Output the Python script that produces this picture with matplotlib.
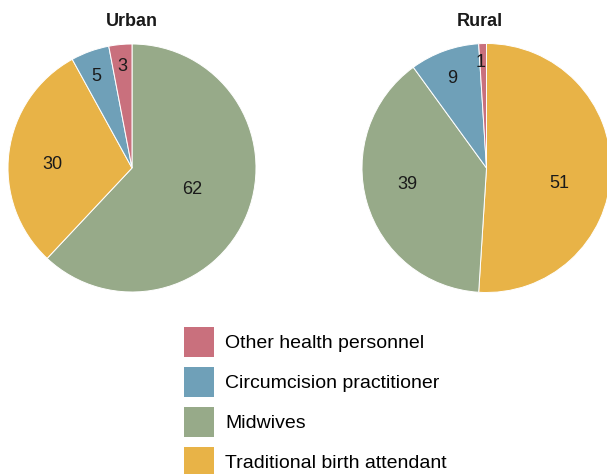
import matplotlib
matplotlib.use("Agg")
import matplotlib.pyplot as plt
import matplotlib.patches as mpatches
import numpy as np

plt.rcParams['font.family'] = ['Liberation Sans', 'DejaVu Sans']

categories = ["Other health personnel", "Circumcision practitioner", "Midwives", "Traditional birth attendant"]
colors = ["#C9707D", "#6FA0B8", "#97AA89", "#E8B347"]
urban_values = [3, 5, 62, 30]
rural_values = [1, 9, 39, 51]
titles = ["Urban", "Rural"]

W, H = 607, 474
fig = plt.figure(figsize=(W / 100, H / 100), dpi=100)

def px_axes(cx, cy, r):
    return fig.add_axes([(cx - r) / W, 1 - (cy + r) / H, 2 * r / W, 2 * r / H])

# label placement (angle in degrees, radius fraction) per category index
urban_lab = {0: (95.6, 0.82), 1: (111.6, 0.79), 2: (-19.8, 0.52), 3: (177.8, 0.64)}
rural_lab = {0: (93.0, 0.845), 1: (111.0, 0.77), 2: (192.1, 0.65), 3: (-11.6, 0.60)}

pie_specs = [
    (urban_values, 132, 168, 124, 132, urban_lab),
    (rural_values, 486.5, 168, 124.5, 480, rural_lab),
]

for (vals, cx, cy, r, tx, lab), title in zip(pie_specs, titles):
    ax = px_axes(cx, cy, r)
    order = sorted(range(len(vals)), key=lambda i: -vals[i])
    v = [vals[i] for i in order]
    c = [colors[i] for i in order]
    ax.pie(v, colors=c, startangle=90, counterclock=False, radius=1,
           wedgeprops=dict(edgecolor='white', linewidth=0.7))
    for i in order:
        ang, rr = lab[i]
        a = np.deg2rad(ang)
        ax.text(rr * np.cos(a), rr * np.sin(a), str(vals[i]), ha='center', va='center',
                fontsize=13, color='#1a1a1a')
    ax.set_xlim(-1, 1)
    ax.set_ylim(-1, 1)
    ax.set_aspect('equal')
    ax.axis('off')
    fig.text(tx / W, 1 - 21 / H, title, ha='center', va='center', fontsize=13,
             fontweight='bold', color='#1a1a1a')

handles = [mpatches.Patch(facecolor=col, edgecolor='none') for col in colors]
fs = 14
box_pt = 30 * 72 / 100
hh = (box_pt / fs - 0.245) / 0.65
fig.legend(handles, categories, loc='upper left', bbox_to_anchor=(184 / W, 1 - 327 / H),
           frameon=False, fontsize=fs, borderpad=0, borderaxespad=0,
           handlelength=box_pt / fs, handleheight=hh, labelspacing=(10 * 72 / 100) / fs,
           handletextpad=(11 * 72 / 100) / fs)

fig.savefig("out.png", dpi=100)
